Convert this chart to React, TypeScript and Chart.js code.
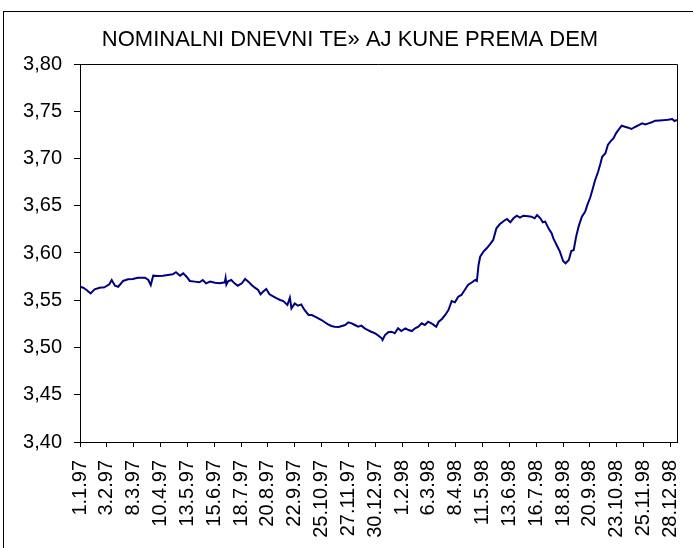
import React, { useEffect, useRef } from 'react';
import { Chart, registerables } from 'chart.js';

Chart.register(...registerables);

const chartTitle = 'NOMINALNI DNEVNI TE» AJ KUNE PREMA DEM';

const tickLabels = [
  '1.1.97', '3.2.97', '8.3.97', '10.4.97', '13.5.97', '15.6.97', '18.7.97', '20.8.97',
  '22.9.97', '25.10.97', '27.11.97', '30.12.97', '1.2.98', '6.3.98', '8.4.98', '11.5.98',
  '13.6.98', '16.7.98', '18.8.98', '20.9.98', '23.10.98', '25.11.98', '28.12.98',
];
const daysPerLabel = 33;
const lastDay = 734;

const yTickValues = [3.4, 3.45, 3.5, 3.55, 3.6, 3.65, 3.7, 3.75, 3.8];

// day index since 1.1.97
const days = [
  0, 4, 8, 13, 18, 24, 30, 36, 39, 43, 47, 53, 59, 65, 71, 80, 84, 87, 90, 96,
  102, 108, 114, 118, 123, 127, 131, 135, 141, 147, 151, 155, 160, 166, 172, 178, 179, 180,
  182, 186, 190, 194, 199, 203, 207, 211, 215, 219, 222, 225, 229, 233, 238, 242, 246, 250,
  255, 258, 260, 264, 268, 272, 276, 281, 285, 289, 293, 297, 301, 305, 309, 313, 318, 322,
  326, 330, 334, 338, 342, 346, 350, 354, 358, 363, 367,
  371, 372, 375, 379, 383, 387, 391, 395, 400, 404, 408, 412, 416, 420, 424, 428, 432, 436,
  438, 441, 445, 449, 453, 457, 461, 465, 469, 473, 477, 482, 486, 488, 490, 492, 496, 500,
  504, 508, 512, 516, 521, 525, 529, 533, 537, 541, 545, 551,
  555, 559, 562, 566, 569, 572, 576, 580, 582, 586, 590, 594, 597, 601, 604, 607, 610, 613,
  617, 621, 624, 627, 630, 633, 637, 640, 642, 646, 649, 652, 656, 659, 662, 666, 670, 674,
  678, 683, 687, 691, 695, 699, 703, 707, 713, 719, 723, 728, 731, 734,
];

// kuna per DEM
const rates = [
  3.5643, 3.5633, 3.5608, 3.5573, 3.5616, 3.5633, 3.5637, 3.5669, 3.5714, 3.5654, 3.5643,
  3.5704, 3.5722, 3.5725, 3.5739, 3.5739, 3.5714, 3.5661, 3.5760, 3.5756,
  3.5760, 3.5767, 3.5774, 3.5796, 3.5760, 3.5785, 3.5749, 3.5704, 3.5697, 3.5690, 3.5714,
  3.5679, 3.5697, 3.5686, 3.5679, 3.5690, 3.5735, 3.5665,
  3.5700, 3.5714, 3.5679, 3.5654, 3.5679, 3.5725, 3.5697, 3.5661, 3.5633, 3.5608, 3.5563,
  3.5590, 3.5619, 3.5563, 3.5538, 3.5520, 3.5503, 3.5492,
  3.5450, 3.5527, 3.5414, 3.5467, 3.5442, 3.5456, 3.5397, 3.5344, 3.5344, 3.5326, 3.5309,
  3.5291, 3.5267, 3.5245, 3.5228, 3.5220, 3.5217, 3.5228,
  3.5238, 3.5267, 3.5256, 3.5238, 3.5220, 3.5231, 3.5203, 3.5185, 3.5167, 3.5150, 3.5125,
  3.5097, 3.5079, 3.5132, 3.5161, 3.5167, 3.5150, 3.5203, 3.5174, 3.5203, 3.5185, 3.5174,
  3.5203, 3.5220, 3.5256, 3.5238, 3.5273, 3.5256, 3.5231,
  3.5220, 3.5273, 3.5302, 3.5344, 3.5397, 3.5492, 3.5478, 3.5538, 3.5556, 3.5608, 3.5661,
  3.5690, 3.5714, 3.5704, 3.5873, 3.5961, 3.6014, 3.6050,
  3.6092, 3.6138, 3.6261, 3.6304, 3.6339, 3.6360, 3.6325, 3.6367, 3.6395, 3.6374, 3.6395,
  3.6390,
  3.6384, 3.6367, 3.6402, 3.6367, 3.6325, 3.6332, 3.6261, 3.6208, 3.6155, 3.6085, 3.6014,
  3.5915, 3.5891, 3.5926, 3.6021, 3.6032, 3.6173, 3.6279,
  3.6384, 3.6437, 3.6515, 3.6579, 3.6667, 3.6762, 3.6860, 3.6949, 3.7019, 3.7055, 3.7143,
  3.7178, 3.7214, 3.7266, 3.7302, 3.7347, 3.7336, 3.7326,
  3.7312, 3.7336, 3.7354, 3.7372, 3.7361, 3.7372, 3.7383, 3.7400, 3.7403, 3.7407, 3.7411,
  3.7418, 3.7397, 3.7407,
];

const FONT = "'Liberation Sans', Arial, sans-serif";

const plotFrame = {
  id: 'plotFrame',
  afterDraw(chart: any) {
    const { ctx, chartArea } = chart;
    ctx.save();
    ctx.strokeStyle = '#000';
    ctx.lineWidth = 1;
    ctx.beginPath();
    ctx.moveTo(chartArea.left, Math.round(chartArea.top) + 0.5);
    ctx.lineTo(Math.round(chartArea.right) + 0.5, Math.round(chartArea.top) + 0.5);
    ctx.lineTo(Math.round(chartArea.right) + 0.5, chartArea.bottom);
    ctx.stroke();
    ctx.restore();
  },
};

export default function App() {
  const canvasRef = useRef<HTMLCanvasElement | null>(null);

  useEffect(() => {
    const canvas = canvasRef.current;
    if (!canvas) return;
    const points = days.map((d, i) => ({ x: d, y: rates[i] }));
    const chart = new Chart(canvas, {
      type: 'line',
      data: {
        datasets: [
          {
            data: points,
            borderColor: '#000080',
            borderWidth: 2,
            pointRadius: 0,
            tension: 0,
            fill: false,
          },
        ],
      },
      options: {
        animation: false,
        responsive: false,
        maintainAspectRatio: false,
        layout: { padding: { left: 23, right: 16, top: 0, bottom: 0 } },
        plugins: {
          legend: { display: false },
          tooltip: { enabled: false },
          title: {
            display: true,
            text: chartTitle,
            color: '#000',
            font: { family: FONT, size: 22, weight: 'normal', lineHeight: 1.2 },
            padding: { top: 27, bottom: 10.6 },
          },
        },
        scales: {
          x: {
            type: 'linear',
            min: 0,
            max: lastDay,
            afterBuildTicks: (scale: any) => {
              scale.ticks = tickLabels.map((_, i) => ({ value: i * daysPerLabel }));
            },
            afterFit: (scale: any) => {
              scale.height = 106;
              scale.paddingLeft = 0;
              scale.paddingRight = 0;
            },
            ticks: {
              autoSkip: false,
              maxRotation: 90,
              minRotation: 90,
              padding: 13,
              color: '#000',
              font: { family: FONT, size: 20 },
              callback: (value: any) => tickLabels[Math.round(Number(value) / daysPerLabel)],
            },
            grid: {
              drawOnChartArea: false,
              drawTicks: true,
              tickLength: 5,
              color: '#000',
            },
            border: { display: true, color: '#000', width: 1 },
          },
          y: {
            type: 'linear',
            min: 3.4,
            max: 3.8,
            afterBuildTicks: (scale: any) => {
              scale.ticks = yTickValues.map((v) => ({ value: v }));
            },
            afterFit: (scale: any) => {
              scale.width = 57;
            },
            ticks: {
              padding: 12,
              color: '#000',
              font: { family: FONT, size: 20 },
              callback: (value: any) => Number(value).toFixed(2).replace('.', ','),
            },
            grid: {
              drawOnChartArea: false,
              drawTicks: true,
              tickLength: 6,
              color: '#000',
            },
            border: { display: true, color: '#000', width: 1 },
          },
        },
      },
      plugins: [plotFrame],
    });
    return () => chart.destroy();
  }, []);

  return (
    <div
      style={{
        position: 'fixed',
        left: 0,
        top: 0,
        width: 693,
        height: 548,
        overflow: 'hidden',
        background: '#fff',
      }}
    >
      <canvas ref={canvasRef} width={693} height={548} style={{ position: 'absolute', left: 0, top: 0 }} />
      <div
        style={{
          position: 'absolute',
          left: 3,
          top: 11,
          width: 800,
          height: 700,
          borderLeft: '1px solid #000',
          borderTop: '1px solid #000',
          pointerEvents: 'none',
        }}
      />
    </div>
  );
}
